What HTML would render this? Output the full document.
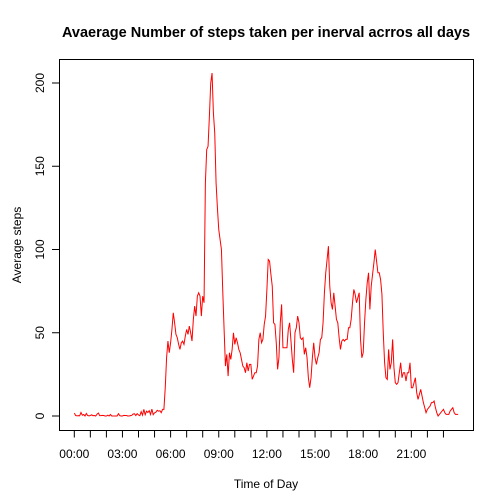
<!DOCTYPE html>
<html><head><meta charset="utf-8"><style>
body{margin:0;background:#fff}
svg{display:block;font-family:"Liberation Sans",Arial,sans-serif}
</style></head><body>
<svg id="chart" width="504" height="504" viewBox="0 0 504 504">
<rect x="0" y="0" width="504" height="504" fill="#fff"/>
<text x="266" y="37" text-anchor="middle" font-size="14.5" font-weight="bold">Avaerage Number of steps taken per inerval acrros all days</text>
<rect x="59.5" y="59.5" width="414" height="371" fill="none" stroke="#000" stroke-width="1"/>
<text x="266" y="488" text-anchor="middle" font-size="12">Time of Day</text>
<text transform="translate(21,245) rotate(-90)" text-anchor="middle" font-size="12">Average steps</text>
<g id="axes"></g>
<path id="series" fill="none" stroke="#ff0000" stroke-width="1"/>
</svg>
<script>
const yTicks = [0, 50, 100, 150, 200];
const xTickHours = [0,1,2,3,4,5,6,7,8,9,10,11,12,13,14,15,16,17,18,19,20,21,22,23];
const xTickLabels = ["00:00","03:00","06:00","09:00","12:00","15:00","18:00","21:00"];
const intervalMinutes = 5;
const values = [
1.7,0.3,0.1,0.2,0.1,2.1,0.5,0.9,0,1.5,
0.3,0.1,0.3,0.7,0.2,0.3,0,1.1,1.8,0.2,
0.2,0.4,0.3,0,0,0.5,0,0.9,0,0,
0,0,0,1.4,0.2,0,0,0.4,0.3,0.3,
0,0,0.2,0.4,1.2,1.3,0.3,1.4,0.6,0.2,
2.6,0.5,4,0.8,2.9,2.1,3.2,0.9,4.1,0.8,
1.9,2.3,3.4,2.9,3.2,2,4,
4,17,35,45,38,44,52,62,56,49,47,43,40,44,45,43,48,52,49,54,50,45,58,66,60,72,74,72,60,72,68,140,160,162,180,200,206,182,170,140,125,112,106,100,75,52,30,37,24,38,34,40,50,43,47,
44,40,38,34,30,29,26,32,27,31,
31,22,24,26,26,30,46,50,44,46,
55,60,76,94,93,85,78,56,55,44,
28,35,56,67,41,41,41,41,52,56,
45,34,26,50,53,60,56,47,46,47,
37,41,35,23,17,23,35,44,35,31,
35,38,46,47,56,74,86,94,102,78,
68,64,74,66,58,56,47,40,45,46,
45,46,46,53,53,58,68,76,73,68,
71,74,46,35,38,56,70,80,86,64,
78,85,92,100,93,86,86,82,73,50,
32,23,22,40,28,32,46,29,20,19,
20,26,32,23,26,26,21,26,26,32,
17,17,20,23,14,10,13,16,12,8,
5,2,4,5,6,8,8,9,5,2,
0,1,2,3,4,2,1,1,1,3,
4,5,2,1,1,1
];
const NS = "http://www.w3.org/2000/svg";
function xScale(min){ return 74.3 + min/60*16.05; }
function yScale(v){ return 416 - v*1.665; }
const axes = document.getElementById('axes');
function mk(tag, attrs){ const e=document.createElementNS(NS,tag); for(const k in attrs) e.setAttribute(k,attrs[k]); axes.appendChild(e); return e; }
yTicks.forEach(v=>{
  const y=yScale(v);
  const t=mk('line',{x1:52,x2:59.5,y1:y,y2:y,stroke:'#000'});
  
  
  const l=mk('text',{transform:`translate(44,${y}) rotate(-90)`,'text-anchor':'middle','font-size':12});
  l.textContent=String(v);
  
  
});
mk('line',{x1:59.5,x2:59.5,y1:yScale(0),y2:yScale(200),stroke:'#000'});
xTickHours.forEach(h=>{
  const x=xScale(h*60);
  const t=mk('line',{x1:x,x2:x,y1:430.5,y2:437.5,stroke:'#000'});
  
  
});
xTickLabels.forEach(s=>{
  const p=s.split(':'); const m=(+p[0])*60+(+p[1]);
  const l=mk('text',{x:xScale(m),y:458,'text-anchor':'middle','font-size':12});
  l.textContent=s;
  
  
});
let d='';
values.forEach((v,i)=>{ d+=(i?'L':'M')+xScale(i*intervalMinutes).toFixed(2)+','+yScale(v).toFixed(2); });
document.getElementById('series').setAttribute('d',d);
</script>
</body></html>
